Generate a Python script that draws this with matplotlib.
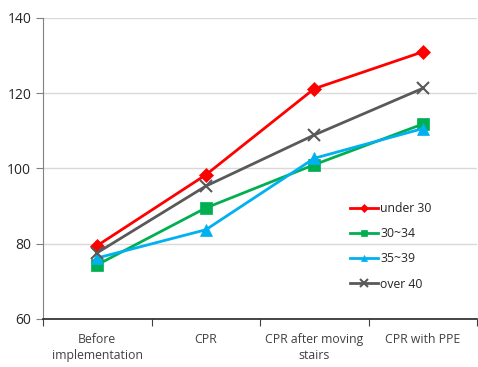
import matplotlib.pyplot as plt
import numpy as np

categories = ["Before\nimplementation", "CPR", "CPR after moving\nstairs", "CPR with PPE"]
under_30 = [79.5, 98.3, 121.2, 131.0]
age_30_34 = [74.4, 89.5, 101.0, 111.8]
age_35_39 = [76.2, 83.7, 102.7, 110.6]
over_40 = [77.6, 95.3, 108.9, 121.3]

series = [
    ("under 30", under_30, "#FF0000", "D", 7),
    ("30~34", age_30_34, "#00B050", "s", 8),
    ("35~39", age_35_39, "#00B0F0", "^", 8),
    ("over 40", over_40, "#595959", "x", 9),
]

plt.rcParams["font.family"] = ["Open Sans", "DejaVu Sans"]

fig = plt.figure(figsize=(4.78, 3.67), dpi=100)
ax = fig.add_axes([0.09, 0.131, 0.908, 0.82])

x = np.arange(len(categories))
for name, vals, color, marker, ms in series:
    ax.plot(x, vals, color=color, lw=2.0, marker=marker, markersize=ms,
            markeredgewidth=1.5 if marker == "x" else 0.5, markeredgecolor=color,
            label=name, zorder=3)

ax.set_xlim(-0.5, len(categories) - 0.5)
ax.set_ylim(60, 140)
ax.set_yticks(np.arange(60, 141, 20))
ax.grid(axis="y", color="#D9D9D9", lw=1.0)
ax.set_axisbelow(True)

# category boundaries as major ticks, labels centred as minor ticks
ax.set_xticks(np.arange(-0.5, len(categories), 1.0))
ax.set_xticklabels([])
ax.set_xticks(x, minor=True)
ax.set_xticklabels(categories, minor=True, fontsize=8.8, color="#404040", linespacing=1.3)
ax.tick_params(axis="x", which="minor", length=0, pad=10)
ax.tick_params(axis="x", which="major", length=5, direction="out", color="#404040")
ax.tick_params(axis="y", length=5, direction="out", labelsize=10, labelcolor="#262626", color="#808080")

for side in ("top", "right"):
    ax.spines[side].set_visible(False)
ax.spines["left"].set_color("#808080")
ax.spines["bottom"].set_color("#262626")
ax.spines["bottom"].set_linewidth(1.2)

leg = ax.legend(loc="upper left", bbox_to_anchor=(0.695, 0.405), frameon=False,
                fontsize=8.8, handlelength=2.3, handletextpad=0.2,
                labelspacing=1.0, markerscale=0.6, borderaxespad=0)
for t in leg.get_texts():
    t.set_color("#262626")

fig.savefig("out.png", dpi=100)
